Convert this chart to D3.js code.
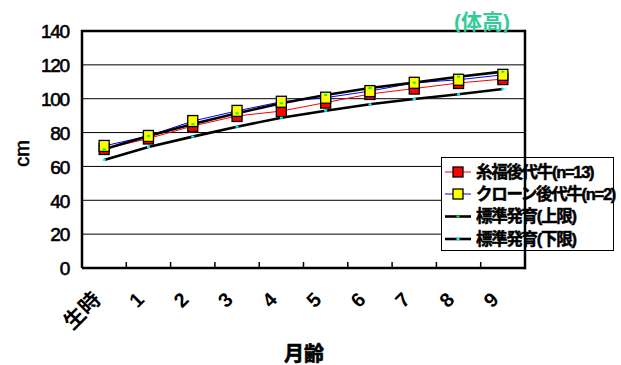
<!DOCTYPE html>
<html>
<head>
<meta charset="utf-8">
<script src="https://cdn.jsdelivr.net/npm/d3@7"></script>
<style>
  html, body { margin: 0; padding: 0; background: #fff; }
  svg { display: block; }
  text { font-family: "Liberation Sans", Arial, "Noto Sans CJK JP", sans-serif; fill: #000; }
</style>
</head>
<body>
<svg id="chart" width="621" height="365"></svg>
<script>
// Age in months (生時 = at birth)
const categories = ["生時", "1", "2", "3", "4", "5", "6", "7", "8", "9"];
// Body height (cm)
const itofukuValues = [70.3, 76.5, 83.9, 89.8, 92.7, 97.7, 102.8, 106.0, 109.3, 111.6];
const cloneValues   = [72.1, 78.0, 86.8, 92.8, 98.2, 100.6, 104.5, 109.4, 111.2, 114.1];
const upperValues   = [70.1, 78.0, 85.0, 91.4, 97.3, 102.2, 106.3, 109.5, 113.0, 116.0];
const lowerValues   = [63.8, 71.5, 77.6, 83.5, 88.8, 92.9, 96.7, 99.8, 102.6, 105.7];
const yTicks = [0, 20, 40, 60, 80, 100, 120, 140];
const seriesNames = ["糸福後代牛(n=13)", "クローン後代牛(n=2)", "標準発育(上限)", "標準発育(下限)"];

const svg = d3.select("#chart");
const plot = { left: 82, right: 525, top: 31, bottom: 268 };

const x = d3.scaleBand().domain(categories).range([plot.left, plot.right]).padding(0);
const y = d3.scaleLinear().domain([0, 140]).range([plot.bottom, plot.top]);
const cx = c => x(c) + x.bandwidth() / 2;

// horizontal gridlines
svg.append("g").selectAll("line").data(yTicks.filter(v => v > 0 && v < 140)).join("line")
  .attr("x1", plot.left).attr("x2", plot.right)
  .attr("y1", d => y(d)).attr("y2", d => y(d))
  .attr("stroke", "#000").attr("stroke-width", 1);

// y axis labels
const yAxis = svg.append("g")
  .attr("transform", `translate(${plot.left},0)`)
  .call(d3.axisLeft(y).tickValues(yTicks).tickSize(0).tickPadding(13));
yAxis.select(".domain").remove();
yAxis.selectAll("text")
  .style("font-family", "'Liberation Sans', Arial, sans-serif")
  .style("font-size", "19px").style("letter-spacing", "-1.2px")
  .style("stroke", "#000").style("stroke-width", "0.6px")
  .attr("dy", "0.36em");

// x axis labels, rotated
const xAxis = svg.append("g")
  .attr("transform", `translate(0,${plot.bottom})`)
  .call(d3.axisBottom(x).tickSize(0).tickPadding(0));
xAxis.select(".domain").remove();
xAxis.selectAll("text")
  .style("font-family", "'Liberation Sans', Arial, 'Noto Sans CJK JP', sans-serif")
  .style("font-size", (d, i) => i === 0 ? "21px" : "20px").style("font-weight", "bold")
  .attr("text-anchor", "end")
  .attr("dy", null).attr("y", 0)
  .attr("transform", (d, i) => i === 0 ? "translate(-2,33) rotate(-45)" : "translate(-3,33) rotate(-45)");

// category boundary ticks on the bottom axis
svg.append("g").selectAll("line").data(categories.slice(1)).join("line")
  .attr("x1", d => x(d)).attr("x2", d => x(d))
  .attr("y1", plot.bottom).attr("y2", plot.bottom - 6)
  .attr("stroke", "#000").attr("stroke-width", 1.5);

// frame (left, top, bottom)
svg.append("path")
  .attr("d", `M${plot.left},${plot.bottom} L${plot.left},${plot.top} L${plot.right},${plot.top} M${plot.left},${plot.bottom} L${plot.right},${plot.bottom}`)
  .attr("fill", "none").attr("stroke", "#000").attr("stroke-width", 2.5);

// lines
const line = d3.line().x((d, i) => cx(categories[i])).y(d => y(d));
svg.append("path").datum(itofukuValues).attr("d", line)
  .attr("fill", "none").attr("stroke", "#ff0000").attr("stroke-width", 1);
svg.append("path").datum(cloneValues).attr("d", line)
  .attr("fill", "none").attr("stroke", "#0000ff").attr("stroke-width", 1);
svg.append("path").datum(upperValues).attr("d", line)
  .attr("fill", "none").attr("stroke", "#000").attr("stroke-width", 2.6);
svg.append("path").datum(lowerValues).attr("d", line)
  .attr("fill", "none").attr("stroke", "#000").attr("stroke-width", 2.6);

// square markers
function squares(values, fill) {
  svg.append("g").selectAll("rect").data(values).join("rect")
    .attr("x", (d, i) => cx(categories[i]) - 5)
    .attr("y", d => y(d) - 5.5)
    .attr("width", 10).attr("height", 11)
    .attr("fill", fill).attr("stroke", "#000").attr("stroke-width", 1.3);
}
squares(itofukuValues, "#ff0000");
squares(cloneValues, "#ffff00");

// small dot markers for the standard curves
function dots(values, fill) {
  svg.append("g").selectAll("rect").data(values).join("rect")
    .attr("x", (d, i) => cx(categories[i]) - 1.5)
    .attr("y", d => y(d) - 1)
    .attr("width", 3).attr("height", 2)
    .attr("fill", fill);
}
dots(upperValues, "#00ff00");
dots(lowerValues, "#00ffff");

// legend
const lg = svg.append("g");
lg.append("rect").attr("x", 441.5).attr("y", 157.5).attr("width", 172).attr("height", 93)
  .attr("fill", "#fff").attr("stroke", "#000").attr("stroke-width", 1);
const legendRows = [172, 194, 216.5, 239];
const lineColors = ["#ff0000", "#0000ff", "#000", "#000"];
const lineWidths = [1, 1, 2.6, 2.6];
seriesNames.forEach((name, i) => {
  const ly = legendRows[i];
  lg.append("line").attr("x1", 445).attr("x2", 471).attr("y1", ly).attr("y2", ly)
    .attr("stroke", lineColors[i]).attr("stroke-width", lineWidths[i]);
  if (i < 2) {
    lg.append("rect").attr("x", 453).attr("y", ly - 5).attr("width", 10).attr("height", 10)
      .attr("fill", i === 0 ? "#ff0000" : "#ffff00").attr("stroke", "#000").attr("stroke-width", 1.3);
  } else {
    lg.append("rect").attr("x", 456.5).attr("y", ly - 1).attr("width", 3).attr("height", 2)
      .attr("fill", i === 2 ? "#00ff00" : "#00ffff");
  }
  lg.append("text").attr("x", 476).attr("y", ly).attr("dy", "0.36em")
    .style("font-size", "16.5px").style("font-weight", "bold").style("letter-spacing", "-1.3px")
    .style("stroke", "#000").style("stroke-width", "0.5px")
    .text(name);
});

// right frame edge
svg.append("line").attr("x1", plot.right).attr("x2", plot.right)
  .attr("y1", plot.top - 1.25).attr("y2", plot.bottom + 1.25)
  .attr("stroke", "#000").attr("stroke-width", 2.5);

// axis titles
svg.append("text").attr("transform", `translate(29,${(plot.top + plot.bottom) / 2 + 4}) rotate(-90)`)
  .attr("text-anchor", "middle")
  .style("font-size", "20px").style("stroke", "#000").style("stroke-width", "0.6px").text("cm");
svg.append("text").attr("x", 304).attr("y", 361).attr("text-anchor", "middle")
  .style("font-size", "20px").style("font-weight", "bold")
  .style("stroke", "#000").style("stroke-width", "0.6px").text("月齢");
svg.append("text").attr("x", 482).attr("y", 29).attr("text-anchor", "middle")
  .style("font-size", "21px").style("font-weight", "bold").style("fill", "#33cc99")
  .text("(体高)");
</script>
</body>
</html>
